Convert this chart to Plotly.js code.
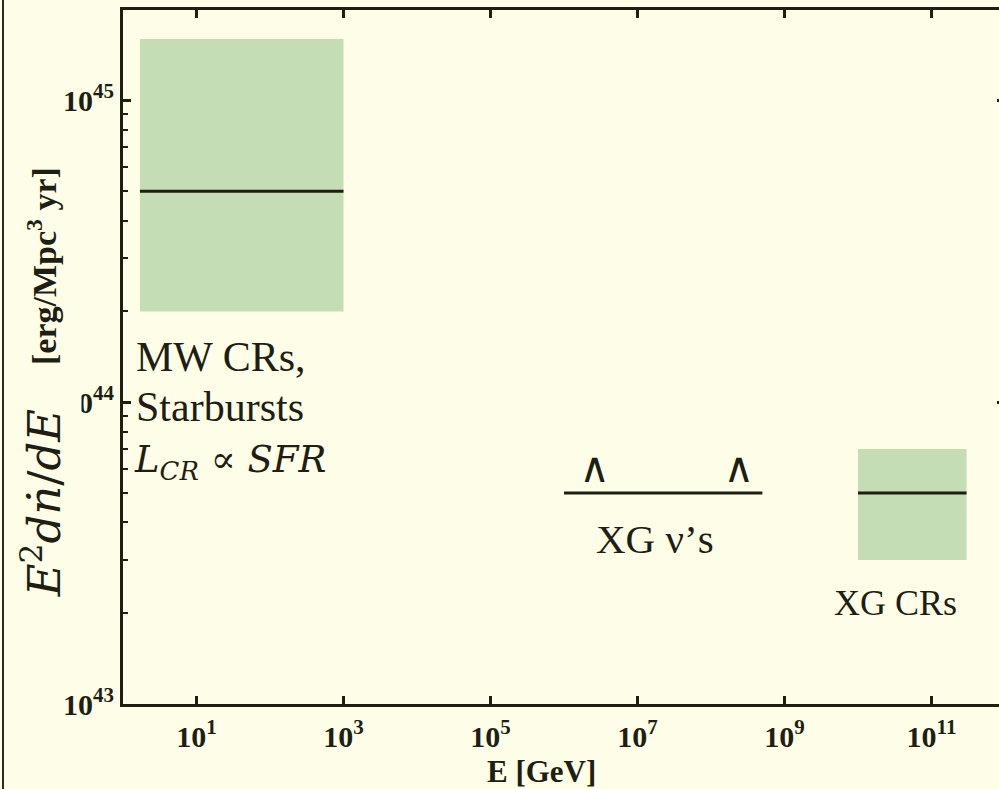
<!DOCTYPE html>
<html>
<head>
<meta charset="utf-8">
<script src="https://cdn.plot.ly/plotly-3.0.1.min.js"></script>
<style>
  html, body { margin: 0; padding: 0; background: #fefee8; overflow: hidden; width: 999px; height: 789px; }
  #chart { position: absolute; left: 0; top: 0; width: 1010px; height: 789px; }
  #frame { position: absolute; left: 2px; top: 0; width: 2px; height: 789px; background: #2a2a20; z-index: 5; }
</style>
</head>
<body>
<div id="chart"></div>
<div id="frame"></div>
<script>
// ---- data ----
const sourceNames = ["MW CRs, Starbursts", "XG \u03bd\u2019s", "XG CRs"];
const energyMin = [1.7, 1e6, 1e10];          // GeV
const energyMax = [1e3, 5e8, 3e11];          // GeV
const rateMid   = [5e44, 5e43, 5e43];        // erg/Mpc^3 yr
const rateLow   = [2e44, null, 3e43];
const rateHigh  = [1.6e45, null, 7e43];
const limitEnergy = [2.6e6, 2.4e8];          // lower-limit carets on XG nu
const limitRate   = [5.9e43, 5.9e43];

const energyTicks = [1e1, 1e3, 1e5, 1e7, 1e9, 1e11];
const energyTickText = ["10<sup>1</sup>", "10<sup>3</sup>", "10<sup>5</sup>", "10<sup>7</sup>", "10<sup>9</sup>", "10<sup>11</sup>"];
const rateTicks = [1e43, 1e44, 1e45];
const rateTickText = ["10<sup>43</sup>", "10<sup>44</sup>", "10<sup>45</sup>"];

// ---- styles ----
const bg = "#fefee8";
const green = "#c5ddb4";
const ink = "#1e1e12";

const traces = [];
for (let i = 0; i < sourceNames.length; i++) {
  if (rateLow[i] !== null) {
    traces.push({
      type: "scatter", mode: "lines", fill: "toself", fillcolor: green,
      x: [energyMin[i], energyMax[i], energyMax[i], energyMin[i], energyMin[i]],
      y: [rateLow[i], rateLow[i], rateHigh[i], rateHigh[i], rateLow[i]],
      line: { width: 0, color: green }, hoverinfo: "skip", showlegend: false
    });
  }
}
for (let i = 0; i < sourceNames.length; i++) {
  traces.push({
    type: "scatter", mode: "lines", name: sourceNames[i],
    x: [energyMin[i], energyMax[i]], y: [rateMid[i], rateMid[i]],
    line: { width: 3, color: ink }, showlegend: false
  });
}
traces.push({
  type: "scatter", mode: "text",
  x: limitEnergy, y: limitRate,
  text: limitEnergy.map(() => "\u2227"),
  textposition: "middle center",
  textfont: { family: "DejaVu Sans", size: 42, color: ink },
  showlegend: false, hoverinfo: "skip"
});

// pixel helpers for plot area (left 123, right 1005, top 10, bottom 704)
const L = 123, R = 1005, T = 10, B = 704;
const px = x => (x - L) / (R - L);
const py = y => (B - y) / (B - T);

const serif = "Liberation Serif";
const mathFont = "DejaVu Serif";

const annotations = [
  { text: "MW CRs,", x: px(134), y: py(357), xanchor: "left", yanchor: "middle",
    font: { family: serif, size: 42, color: ink } },
  { text: "Starbursts", x: px(134), y: py(407), xanchor: "left", yanchor: "middle",
    font: { family: serif, size: 42, color: ink } },
  { text: "<i>L</i><sub><i>CR</i></sub> \u221d <i>SFR</i>", x: px(132), y: py(462), xanchor: "left", yanchor: "middle",
    font: { family: mathFont, size: 37, color: ink } },
  { text: "XG \u03bd\u2019s", x: px(655), y: py(539), xanchor: "center", yanchor: "middle",
    font: { family: serif, size: 41, color: ink } },
  { text: "XG CRs", x: px(832), y: py(603), xanchor: "left", yanchor: "middle",
    font: { family: serif, size: 36, color: ink } },
  { text: "<b>E [GeV]</b>", x: px(541), y: py(771), xanchor: "center", yanchor: "middle",
    font: { family: serif, size: 31, color: ink } },
  { text: "<b>[erg/Mpc<sup>3</sup> yr]</b>", x: px(42), y: py(266), xanchor: "center", yanchor: "middle",
    textangle: -90, font: { family: serif, size: 34, color: ink } },
  { text: "<i>E</i><sup>2</sup><i>d\u1e45</i>/<i>dE</i>", x: px(42), y: py(503), xanchor: "center", yanchor: "middle",
    textangle: -90, width: 236, height: 76, bgcolor: bg,
    font: { family: mathFont, size: 45, color: ink } }
].map(a => Object.assign({ xref: "paper", yref: "paper", showarrow: false }, a));

const layout = {
  width: 1010, height: 789,
  margin: { l: L, r: 1010 - R, t: T, b: 789 - B, pad: 0 },
  paper_bgcolor: bg, plot_bgcolor: bg,
  showlegend: false,
  xaxis: {
    type: "log", range: [0, 12], autorange: false,
    tickmode: "array", tickvals: energyTicks,
    ticktext: energyTickText.map(t => "<b>" + t + "</b>"),
    ticks: "inside", ticklen: 8, tickwidth: 3, tickcolor: ink,
    showline: true, linewidth: 3, linecolor: ink, mirror: "ticks",
    showgrid: false, zeroline: false,
    tickfont: { family: serif, size: 30, color: ink },
    ticklabelstandoff: 4
  },
  yaxis: {
    type: "log", range: [43, 45.3], autorange: false,
    tickmode: "array", tickvals: rateTicks,
    ticktext: rateTickText.map(t => "<b>" + t + "</b>"),
    ticks: "inside", ticklen: 8, tickwidth: 3, tickcolor: ink,
    minor: { ticks: "inside", ticklen: 5, tickwidth: 2, tickcolor: ink, dtick: "D1", showgrid: false },
    showline: true, linewidth: 3, linecolor: ink, mirror: "ticks",
    showgrid: false, zeroline: false,
    tickfont: { family: serif, size: 30, color: ink },
    ticklabelstandoff: 0
  },
  annotations: annotations
};

Plotly.newPlot("chart", traces, layout, { displayModeBar: false, staticPlot: true });
</script>
</body>
</html>
